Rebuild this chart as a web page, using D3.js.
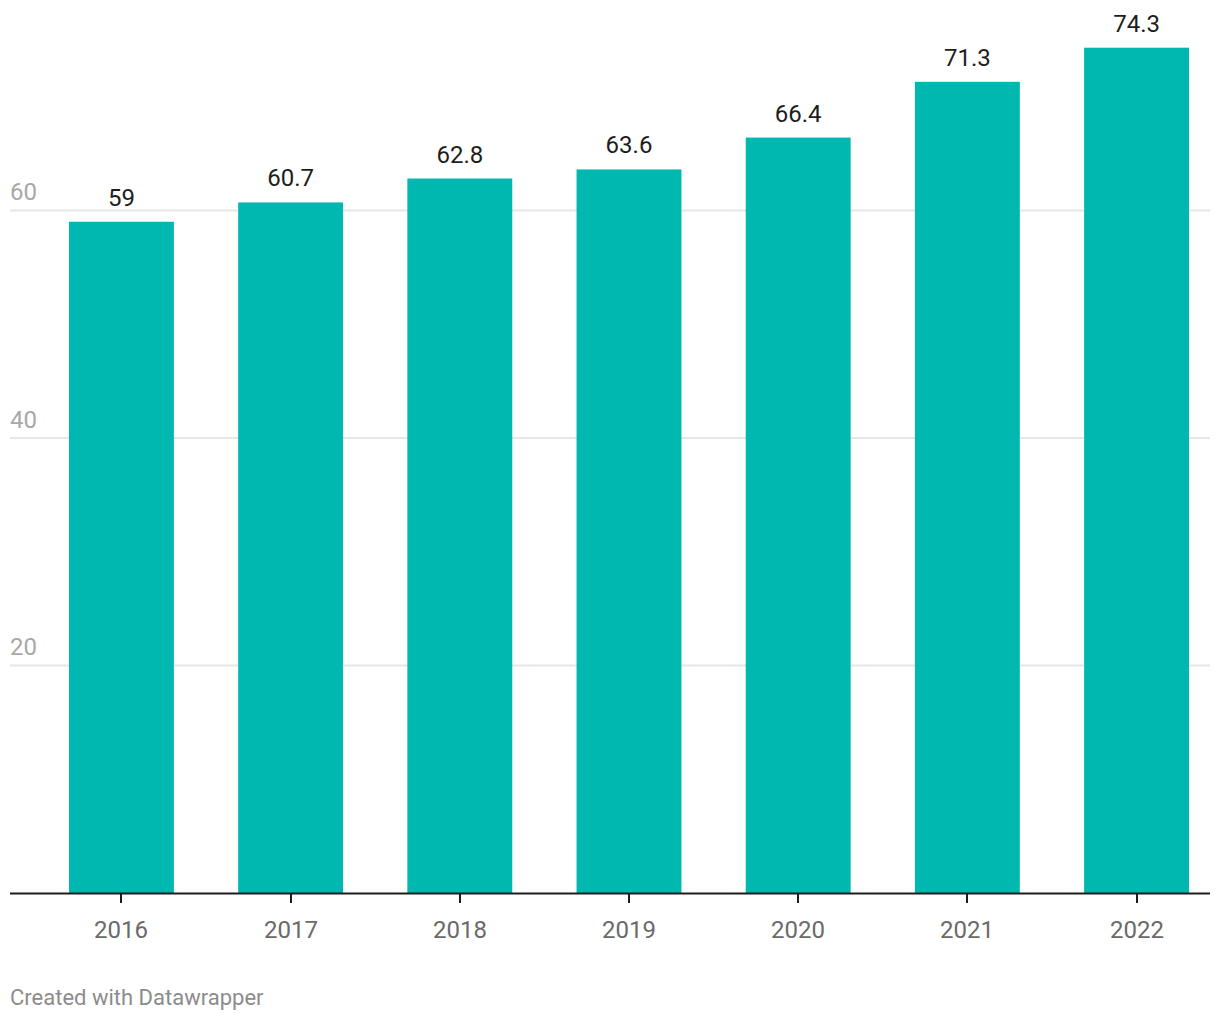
<!DOCTYPE html>
<html><head><meta charset="utf-8">
<script src="https://cdn.jsdelivr.net/npm/d3@7"></script>
<style>
body{margin:0;background:#fff;}
text{font-family:Roboto,"Noto Sans",sans-serif;}
</style></head>
<body><svg id="c" width="1220" height="1020"></svg>
<script>
const years = ["2016","2017","2018","2019","2020","2021","2022"];
const values = [59, 60.7, 62.8, 63.6, 66.4, 71.3, 74.3];
const yTicks = [20, 40, 60];
const footer = "Created with Datawrapper";

const svg = d3.select("#c");
const y = d3.scaleLinear().domain([0, 80]).range([893, 893 - 80 * 11.377]);
const x = d3.scaleBand().domain(years).range([48, 1210]).paddingInner(0.38).paddingOuter(0.124);

// gridlines
const g = svg.append("g");
yTicks.forEach(t => {
  g.append("line").attr("x1", 10).attr("x2", 1210)
    .attr("y1", y(t)).attr("y2", y(t))
    .attr("stroke", "#e6e6e6").attr("stroke-width", 2);
  g.append("text").attr("x", 10).attr("y", y(t) - 10)
    .attr("fill", "#a8a8a8").attr("font-size", 24).text(t);
});

// bars
svg.append("g").selectAll("rect").data(values).join("rect")
  .attr("x", (d, i) => x(years[i]))
  .attr("width", x.bandwidth())
  .attr("y", d => y(d))
  .attr("height", d => y(0) - y(d))
  .attr("fill", "#00b8b0");

// value labels
svg.append("g").selectAll("text").data(values).join("text")
  .attr("x", (d, i) => x(years[i]) + x.bandwidth() / 2)
  .attr("y", d => y(d) - 16)
  .attr("text-anchor", "middle")
  .attr("fill", "#1d1d1d").attr("font-size", 24)
  .text(d => d);

// x axis
const ax = svg.append("g").attr("transform", "translate(0,893)");
ax.append("line").attr("x1", 10).attr("x2", 1210).attr("y1", 0.5).attr("y2", 0.5)
  .attr("stroke", "#1d1d1d").attr("stroke-width", 2);
years.forEach(yr => {
  const cx = Math.round(x(yr) + x.bandwidth() / 2);
  ax.append("line").attr("x1", cx).attr("x2", cx).attr("y1", 0).attr("y2", 10)
    .attr("stroke", "#1d1d1d").attr("stroke-width", 2);
  ax.append("text").attr("x", cx).attr("y", 45).attr("text-anchor", "middle")
    .attr("fill", "#6a6a6a").attr("font-size", 24).text(yr);
});

svg.append("text").attr("x", 10).attr("y", 1005)
  .attr("fill", "#8c8c8c").attr("font-size", 22).text(footer);
</script></body></html>
